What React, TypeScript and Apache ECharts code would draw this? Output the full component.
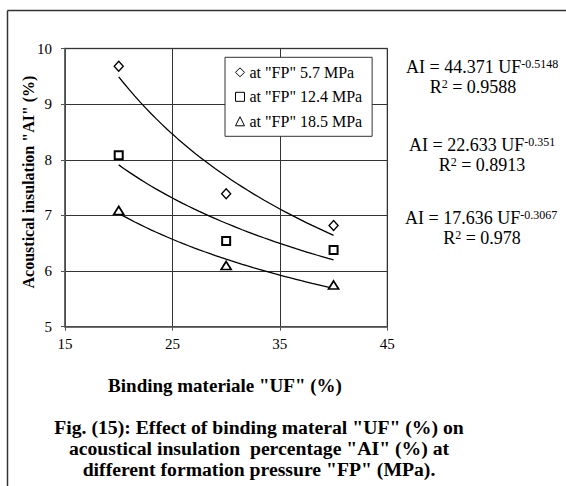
import React, { useEffect, useRef } from "react";
import * as echarts from "echarts";

const ufValues = [20, 30, 40];
const seriesNames = ['at "FP" 5.7 MPa', 'at "FP" 12.4 MPa', 'at "FP" 18.5 MPa'];
const ai57 = [9.68, 7.39, 6.82];
const ai124 = [8.08, 6.54, 6.38];
const ai185 = [7.09, 6.1, 5.75];
const fitCoef = [44.371, 22.633, 17.636];
const fitExp = [-0.5148, -0.351, -0.3067];
const fitExpLabel = ["-0.5148", "-0.351", "-0.3067"];
const fitR2 = ["0.9588", "0.8913", "0.978"];
const xRange = [15, 45];
const yRange = [5, 10];
const yLabel = 'Acoustical insulation "AI" (%)';
const xLabel = 'Binding materiale "UF" (%)';
const captionLines = [
  'Fig. (15): Effect of binding materal "UF" (%) on',
  'acoustical insulation  percentage "AI" (%) at',
  'different formation pressure "FP" (MPa).',
];

const SERIF = '"Liberation Serif", "Times New Roman", serif';

export default function App() {
  const ref = useRef<HTMLDivElement>(null);
  useEffect(() => {
    if (!ref.current) return;
    const chart = echarts.init(ref.current, null, { renderer: "svg" });
    const allAI = [ai57, ai124, ai185];
    const symbols = ["diamond", "rect", "triangle"];
    const sizes: any[] = [[9, 10], 8, [10, 8]];
    const borderWidths = [1.4, 2, 1.7];

    // trendline points from the fitted power equation shown on the chart
    const trendX: number[] = [];
    for (let x = ufValues[0]; x <= ufValues[ufValues.length - 1] + 1e-9; x += 0.5) trendX.push(x);

    const scatterSeries = allAI.map((vals, i) => ({
      name: seriesNames[i],
      type: "scatter",
      symbol: symbols[i],
      symbolSize: sizes[i],
      itemStyle: { color: "#ffffff", borderColor: "#000000", borderWidth: borderWidths[i], opacity: 1 },
      data: ufValues.map((u, j) => [u, vals[j]]),
      z: 5,
    }));
    const trendSeries = fitCoef.map((c, i) => ({
      name: "trend" + i,
      type: "line",
      showSymbol: false,
      symbol: "none",
      smooth: false,
      lineStyle: { color: "#000000", width: 1.3 },
      data: trendX.map((x) => [x, c * Math.pow(x, fitExp[i])]),
      z: 3,
    }));

    const eqX = [406, 409, 405];
    const eqY = [67, 145, 218];
    const r2X = [473, 482, 482];
    const graphic: any[] = [
      { type: "line", shape: { x1: 7.5, y1: 10.5, x2: 566, y2: 10.5 }, style: { stroke: "#333", lineWidth: 1.5 } },
      { type: "line", shape: { x1: 7.5, y1: 10.5, x2: 7.5, y2: 486 }, style: { stroke: "#333", lineWidth: 1.5 } },
      {
        type: "text",
        x: 28.5,
        y: 182,
        rotation: Math.PI / 2,
        style: { text: yLabel, font: `bold 16px ${SERIF}`, fill: "#000", textAlign: "center", textVerticalAlign: "middle" },
      },
      {
        type: "text",
        x: 225,
        y: 385,
        style: { text: xLabel, font: `bold 19px ${SERIF}`, fill: "#000", textAlign: "center", textVerticalAlign: "middle" },
      },
      {
        type: "text",
        x: 259,
        y: 448,
        style: {
          text: captionLines.join("\n"),
          font: `bold 19.7px ${SERIF}`,
          lineHeight: 21,
          fill: "#000",
          textAlign: "center",
          textVerticalAlign: "middle",
        },
      },
    ];
    fitCoef.forEach((c, i) => {
      graphic.push({
        type: "text",
        x: eqX[i],
        y: eqY[i],
        style: {
          text: `{a|AI = ${c.toFixed(3)} UF}{s|${fitExpLabel[i]}}`,
          textAlign: "left",
          textVerticalAlign: "middle",
          rich: {
            a: { fontSize: 18, fontFamily: SERIF, fill: "#000", color: "#000" },
            s: { fontSize: 12, fontFamily: SERIF, fill: "#000", color: "#000", verticalAlign: "top" },
          },
        },
      });
      graphic.push({
        type: "text",
        x: r2X[i],
        y: eqY[i] + 20,
        style: {
          text: `{a|R}{s|2}{a| = ${fitR2[i]}}`,
          textAlign: "center",
          textVerticalAlign: "middle",
          rich: {
            a: { fontSize: 18, fontFamily: SERIF, fill: "#000", color: "#000" },
            s: { fontSize: 12, fontFamily: SERIF, fill: "#000", color: "#000", verticalAlign: "top" },
          },
        },
      });
    });

    chart.setOption({
      animation: false,
      backgroundColor: "#ffffff",
      grid: { left: 65, top: 48.5, width: 322.3, height: 278.2, show: true, borderColor: "#808080", borderWidth: 1.5 },
      xAxis: {
        type: "value",
        min: xRange[0],
        max: xRange[1],
        interval: 10,
        axisLine: { show: true, lineStyle: { color: "#555", width: 1.5 } },
        axisTick: { show: true, length: 4, lineStyle: { color: "#555" } },
        axisLabel: { fontFamily: SERIF, fontSize: 15, color: "#000", margin: 10 },
        splitLine: { show: true, lineStyle: { color: "#333", width: 1 } },
      },
      yAxis: {
        type: "value",
        min: yRange[0],
        max: yRange[1],
        interval: 1,
        axisLine: { show: true, lineStyle: { color: "#555", width: 1.5 } },
        axisTick: { show: true, length: 4, lineStyle: { color: "#555" } },
        axisLabel: { fontFamily: SERIF, fontSize: 15, color: "#000", margin: 13 },
        splitLine: { show: true, lineStyle: { color: "#333", width: 1 } },
      },
      legend: {
        data: seriesNames.map((n, i) => ({ name: n, icon: symbols[i] })),
        orient: "vertical",
        left: 225,
        top: 57.3,
        itemWidth: 9,
        itemHeight: 9,
        itemGap: 8.5,
        padding: [7, 10, 7, 10],
        backgroundColor: "#ffffff",
        borderColor: "#333",
        borderWidth: 1,
        textStyle: { fontFamily: SERIF, fontSize: 16, color: "#000", padding: [0, 0, 0, 0] },
        itemStyle: { color: "#ffffff", borderColor: "#000", borderWidth: 1 },
        selectedMode: false,
        z: 10,
      },
      graphic,
      series: [...trendSeries, ...scatterSeries],
    });
    return () => chart.dispose();
  }, []);
  return <div ref={ref} style={{ position: "fixed", left: 0, top: 0, width: 566, height: 486 }} />;
}
